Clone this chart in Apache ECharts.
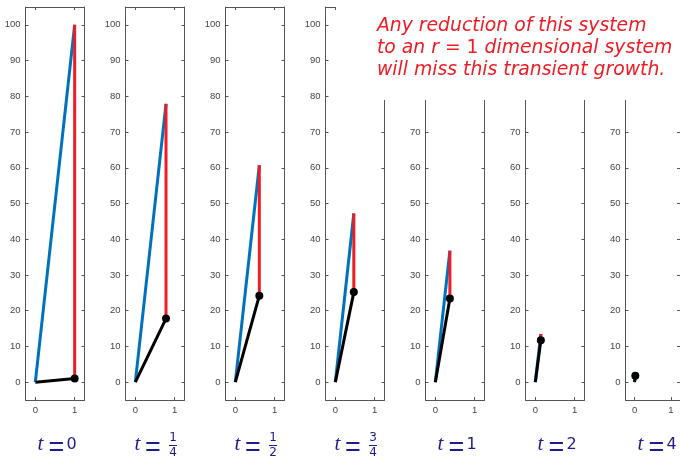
<!DOCTYPE html>
<html>
<head>
<meta charset="utf-8">
<script src="https://cdn.jsdelivr.net/npm/echarts@6/dist/echarts.min.js"></script>
<style>
  html, body { margin: 0; padding: 0; background: #fff; }
  #main { width: 680px; height: 456px; }
</style>
</head>
<body>
<div id="main"></div>
<script>
// time labels under each panel (num/den for fractions)
var tNum = ['0', '1', '1', '3', '1', '2', '4'];
var tDen = [null, '4', '2', '4', null, null, null];
// end points of the three segments in each panel
var xEnd = [1, 0.78, 0.61, 0.47, 0.37, 0.14, 0.02];
var blueEnd = [100, 77.9, 60.7, 47.2, 36.8, 13.5, 1.8];
var blackEnd = [1, 17.8, 24.2, 25.2, 23.4, 11.7, 1.8];
var xTicks = [0, 1];
var yTicks = [0, 10, 20, 30, 40, 50, 60, 70, 80, 90, 100];
var noteLines = [
  'Any reduction of this system',
  'to an r {m|= 1} dimensional system',
  'will miss this transient growth.'
];

var myChart = echarts.init(document.getElementById('main'));

var frameLine = { show: true, onZero: false, lineStyle: { color: '#555', width: 1 } };
var grids = [], xAxes = [], yAxes = [], series = [], graphics = [];
var navy = '#1c1c8c';

function txt(x, y, s, font, size, italic) {
  return {
    type: 'text', x: x, y: y,
    style: {
      text: s, align: 'center', verticalAlign: 'middle', fill: navy,
      fontFamily: font, fontSize: size, fontStyle: italic ? 'italic' : 'normal'
    }
  };
}

for (var i = 0; i < xEnd.length; i++) {
  var left = 25.5 + 100 * i;
  grids.push({ left: left, top: 7, width: 59, height: 393 });
  // bottom + top x axes
  xAxes.push({
    type: 'value', gridIndex: i, min: -0.25, max: 1.25, position: 'bottom',
    axisLine: frameLine, splitLine: { show: false },
    axisTick: { inside: true, length: 3, customValues: xTicks, lineStyle: { color: '#555' } },
    axisLabel: { customValues: xTicks, color: '#444', fontSize: 9.5, margin: 5, fontFamily: 'Liberation Sans' }
  });
  xAxes.push({
    type: 'value', gridIndex: i, min: -0.25, max: 1.25, position: 'top',
    axisLine: frameLine, splitLine: { show: false },
    axisTick: { inside: true, length: 3, customValues: xTicks, lineStyle: { color: '#555' } },
    axisLabel: { show: false }
  });
  // left + right y axes
  yAxes.push({
    type: 'value', gridIndex: i, min: -5, max: 105, position: 'left',
    axisLine: frameLine, splitLine: { show: false },
    axisTick: { inside: true, length: 3, customValues: yTicks, lineStyle: { color: '#555' } },
    axisLabel: { customValues: yTicks, color: '#444', fontSize: 9.5, margin: 5, fontFamily: 'Liberation Sans' }
  });
  yAxes.push({
    type: 'value', gridIndex: i, min: -5, max: 105, position: 'right',
    axisLine: frameLine, splitLine: { show: false },
    axisTick: { inside: true, length: 3, customValues: yTicks, lineStyle: { color: '#555' } },
    axisLabel: { show: false }
  });

  //蓝线
  series.push({
    type: 'line', xAxisIndex: 2 * i, yAxisIndex: 2 * i, symbol: 'none', silent: true,
    lineStyle: { color: '#0072bd', width: 3 },
    data: [[0, 0], [xEnd[i], blueEnd[i]]]
  });
  //红线
  series.push({
    type: 'line', xAxisIndex: 2 * i, yAxisIndex: 2 * i, symbol: 'none', silent: true,
    lineStyle: { color: '#ee1c25', width: 3 },
    data: [[xEnd[i], blackEnd[i]], [xEnd[i], blueEnd[i]]]
  });
  //黑线
  series.push({
    type: 'line', xAxisIndex: 2 * i, yAxisIndex: 2 * i, silent: true,
    symbol: 'circle', symbolSize: 8, showAllSymbol: true,
    itemStyle: { color: '#000' },
    lineStyle: { color: '#000', width: 3 },
    data: [{ value: [0, 0], symbol: 'none' }, [xEnd[i], blackEnd[i]]]
  });

  // t labels
  var pc = left + 29.5;
  if (tDen[i] === null) {
    graphics.push(txt(pc - 14.5, 444, 't', 'Liberation Serif', 21, true));
    graphics.push(txt(pc + 1.5, 448.5, '=', 'Liberation Sans', 27, false));
    graphics.push(txt(pc + 16.5, 444.5, tNum[i], 'DejaVu Sans', 16, false));
  } else {
    graphics.push(txt(pc - 17.5, 444, 't', 'Liberation Serif', 21, true));
    graphics.push(txt(pc - 2, 448.5, '=', 'Liberation Sans', 27, false));
    graphics.push(txt(pc + 18, 438, tNum[i], 'DejaVu Sans', 12, false));
    graphics.push({
      type: 'rect', shape: { x: pc + 14, y: 445, width: 8, height: 1 },
      style: { fill: navy }
    });
    graphics.push(txt(pc + 18, 453, tDen[i], 'DejaVu Sans', 12, false));
  }
}

// white box behind the note
graphics.push({
  type: 'rect', z: 50, shape: { x: 336, y: 0, width: 344, height: 100 },
  style: { fill: '#fff' }
});
for (var k = 0; k < noteLines.length; k++) {
  graphics.push({
    type: 'text', z: 51, x: 377, y: 26 + 22 * k,
    style: {
      text: noteLines[k], verticalAlign: 'middle',
      fill: '#ee1c25', fontSize: 18.8, fontStyle: 'italic', fontFamily: 'DejaVu Sans',
      rich: { m: { fontStyle: 'normal', fontSize: 18.8, fontFamily: 'DejaVu Sans', fill: '#ee1c25' } }
    }
  });
}

var option = {
  animation: false,
  backgroundColor: '#fff',
  grid: grids,
  xAxis: xAxes,
  yAxis: yAxes,
  series: series,
  graphic: graphics
};
myChart.setOption(option, true);
</script>
</body>
</html>
